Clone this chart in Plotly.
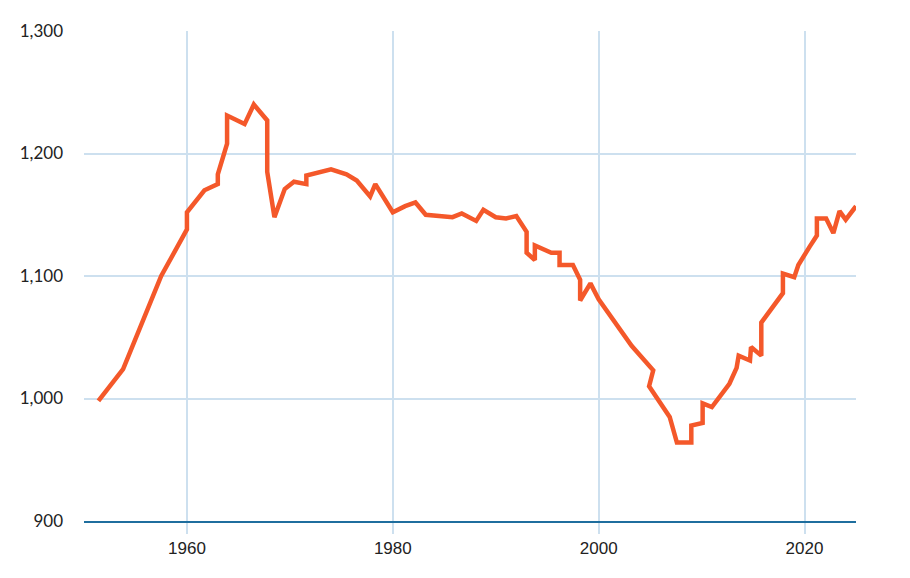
import plotly.graph_objects as go

# Series
years = [
    1951.4, 1953.8, 1957.5, 1960.0, 1960.0, 1961.7, 1963.0, 1963.0, 1963.9, 1963.9,
    1965.6, 1966.5, 1967.8, 1967.8, 1968.5, 1969.5, 1970.4, 1971.6, 1971.6, 1974.0,
    1975.5, 1976.5, 1977.8, 1978.3, 1980.0, 1981.2, 1982.2, 1983.2, 1985.8, 1986.7,
    1988.1, 1988.8, 1990.0, 1991.0, 1992.0, 1993.0, 1993.0, 1993.8, 1993.8, 1995.4,
    1996.2, 1996.2, 1997.5, 1998.2, 1998.2, 1999.2, 2000.0, 2003.2, 2005.3, 2004.9,
    2006.9, 2007.6, 2009.0, 2009.0, 2010.1, 2010.1, 2011.0, 2012.7, 2013.4, 2013.6,
    2014.7, 2014.8, 2015.8, 2015.8, 2017.9, 2017.9, 2019.0, 2019.4, 2020.5, 2021.2,
    2021.2, 2022.1, 2022.8, 2023.4, 2024.0, 2025.0,
]
values = [
    998, 1024, 1100, 1138, 1152, 1170, 1175, 1183, 1208, 1231,
    1224, 1240, 1227, 1185, 1148, 1171, 1177, 1175, 1182, 1187,
    1183, 1178, 1165, 1175, 1152, 1157, 1160, 1150, 1148, 1151,
    1145, 1154, 1148, 1147, 1149, 1136, 1119, 1113, 1125, 1119,
    1119, 1109, 1109, 1097, 1080, 1094, 1081, 1043, 1023, 1010,
    985, 964, 964, 978, 980, 996, 993, 1012, 1025, 1035,
    1031, 1042, 1035, 1062, 1086, 1102, 1099, 1109, 1124, 1133,
    1147, 1147, 1135, 1153, 1146, 1157,
]

x_ticks = [1960, 1980, 2000, 2020]
y_ticks = [900, 1000, 1100, 1200, 1300]
y_labels = ['900', '1,000', '1,100', '1,200', '1,300']

grid_blue = '#cde0ef'
axis_blue = '#1f6e9e'
line_orange = '#f4582a'

fig = go.Figure(go.Scatter(
    x=years,
    y=values,
    mode='lines',
    line=dict(color=line_orange, width=4.5),
    hoverinfo='skip',
))

# page body adds an 8px offset, so the figure is a little smaller than the window
fig.update_layout(
    width=902,
    height=570,
    margin=dict(l=74, r=54, t=17, b=57),
    plot_bgcolor='white',
    paper_bgcolor='white',
    showlegend=False,
)

fig.update_xaxes(
    range=[1950, 2025],
    tickvals=x_ticks,
    showgrid=True,
    gridcolor=grid_blue,
    gridwidth=1.5,
    ticks='outside',
    ticklen=11,
    tickcolor=grid_blue,
    tickwidth=1.5,
    showline=True,
    linecolor=axis_blue,
    linewidth=2,
    zeroline=False,
    tickfont=dict(family='Liberation Sans Narrow, Liberation Sans, sans-serif', size=17, color='#222'),
)
fig.update_yaxes(
    range=[900, 1300],
    tickvals=y_ticks,
    ticktext=y_labels,
    showgrid=True,
    gridcolor=grid_blue,
    gridwidth=1.5,
    zeroline=False,
    ticks='',
    ticklabelstandoff=20,
    tickfont=dict(family='Lato, sans-serif', size=17, color='#222'),
)

fig.write_html("out.html")
